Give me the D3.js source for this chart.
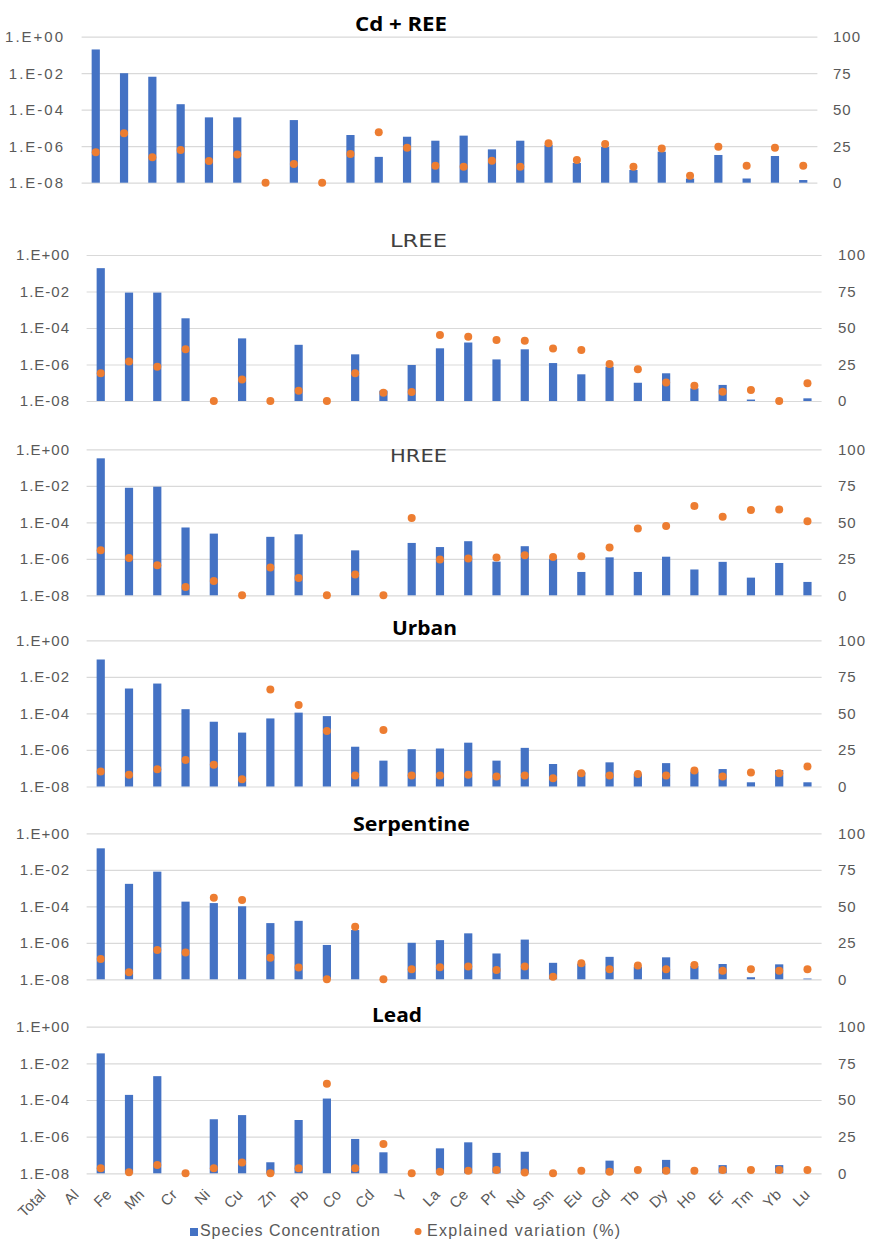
<!DOCTYPE html>
<html>
<head>
<meta charset="utf-8">
<script src="https://cdn.jsdelivr.net/npm/d3@7"></script>
<style>
  body { margin: 0; background: #fff; }
  svg { display: block; }
  text { font-family: "Liberation Sans", Arial, sans-serif; }
</style>
</head>
<body>
<svg id="chart" width="870" height="1242"></svg>
<script>
const elements = ["Total", "Al", "Fe", "Mn", "Cr", "Ni", "Cu", "Zn", "Pb", "Co", "Cd", "Y", "La",
  "Ce", "Pr", "Nd", "Sm", "Eu", "Gd", "Tb", "Dy", "Ho", "Er", "Tm", "Yb", "Lu"];

const titles = ["Cd + REE", "LREE", "HREE", "Urban", "Serpentine", "Lead"];

// species concentration (log axis); null = no bar
const concCdRee = [0.2, 1.0e-2, 6.4e-3, 2.0e-4, 3.8e-5, 3.8e-5, null, 2.7e-5, null, 4.1e-6, 2.6e-7, 3.3e-6, 2.0e-6,
  3.8e-6, 6.7e-7, 2.0e-6, 1.2e-6, 1.2e-7, 9e-7, 5e-8, 5e-7, 1.7e-8, 3.3e-7, 1.7e-8, 2.9e-7, 1.4e-8];
const concLree = [0.19, 8.7e-3, 8.7e-3, 3.4e-4, null, 2.7e-5, null, 1.2e-5, null, 3.6e-6, 3.7e-8, 9.4e-7, 7.7e-6,
  1.6e-5, 1.9e-6, 6.8e-6, 1.2e-6, 2.9e-7, 7.6e-7, 1.0e-7, 3.3e-7, 5e-8, 7.6e-8, 1.2e-8, null, 1.4e-8];
const concHree = [0.32, 7.8e-3, 8.9e-3, 5.2e-5, 2.4e-5, null, 1.6e-5, 2.2e-5, null, 2.9e-6, null, 7.4e-6, 4.4e-6,
  9.2e-6, 7e-7, 4.9e-6, 1e-6, 1.9e-7, 1.2e-6, 1.9e-7, 1.3e-6, 2.6e-7, 6.8e-7, 9.3e-8, 5.9e-7, 5.4e-8];
const concUrban = [8.9e-2, 2.3e-3, 4.3e-3, 1.7e-4, 3.5e-5, 8.9e-6, 5.3e-5, 1.1e-4, 7.1e-5, 1.5e-6, 2.6e-7, 1.1e-6, 1.2e-6,
  2.5e-6, 2.6e-7, 1.3e-6, 1.7e-7, 6e-8, 2.1e-7, 5e-8, 1.9e-7, 6.6e-8, 9e-8, 1.7e-8, 8e-8, 1.7e-8];
const concSerp = [0.15, 1.7e-3, 7.9e-3, 1.8e-4, 1.5e-4, 1.0e-4, 1.2e-5, 1.6e-5, 7.6e-7, 5e-6, null, 1e-6, 1.4e-6,
  3.3e-6, 2.6e-7, 1.5e-6, 8e-8, 7e-8, 1.7e-7, 5e-8, 1.6e-7, 5.3e-8, 6.9e-8, 1.3e-8, 6.6e-8, 1.1e-8];
const concLead = [3.5e-2, 1.9e-4, 2.0e-3, null, 8.9e-6, 1.5e-5, 4e-8, 8.1e-6, 1.2e-4, 7.5e-7, 1.4e-7, null, 2.3e-7,
  4.9e-7, 1.3e-7, 1.5e-7, null, null, 4.9e-8, null, 5.4e-8, null, 2.8e-8, null, 2.8e-8, null];

// explained variation (%), right axis
const varCdRee = [20.8, 33.8, 17.4, 22.4, 14.8, 19.4, 0, 12.8, 0, 19.6, 34.5, 24, 11.6,
  11, 15, 11, 27, 15.5, 26.5, 11, 23.5, 4.8, 24.7, 11.6, 24, 11.6];
const varLree = [19, 27, 23.5, 35.4, 0, 14.8, 0, 7, 0, 19, 5.7, 6.2, 45.2,
  44, 41.8, 41.3, 36, 35, 25.3, 21.7, 12.6, 10.5, 6.4, 7.5, 0, 12.1];
const varHree = [30.9, 25.6, 20.6, 5.7, 9.8, 0, 19, 11.9, 0, 14.2, 0, 53, 24.5,
  25.2, 25.9, 27.5, 26.3, 26.8, 32.7, 45.8, 47.4, 61.1, 53.8, 58.4, 58.8, 50.8];
const varUrban = [10.2, 8, 11.8, 18.2, 14.8, 5, 66.4, 55.7, 38, 7.5, 38.6, 7.5, 7.5,
  8, 6.8, 7.5, 5.7, 9.1, 7.5, 8.6, 7.5, 10.9, 6.8, 9.5, 9.1, 13.6];
const varSerp = [13.9, 4.8, 20, 18.3, 55.9, 54.3, 14.8, 8, 0, 36, 0, 6.8, 8.2,
  8.7, 6.4, 8.7, 1.8, 11, 6.8, 9.4, 6.8, 9.8, 5.9, 6.8, 5.9, 6.8];
const varLead = [3.4, 0.7, 5.7, 0, 3.4, 7.3, 0, 3.4, 61, 3.4, 20, 0, 1.1,
  1.8, 2.3, 0.5, 0, 1.8, 1.1, 2.3, 1.8, 1.8, 2.3, 2.3, 2.3, 2.3];

const logTicks = [1, 1e-2, 1e-4, 1e-6, 1e-8];
const logTickLabels = ["1.E+00", "1.E-02", "1.E-04", "1.E-06", "1.E-08"];
const pctTicks = [0, 25, 50, 75, 100];
const legendLabels = ["Species Concentration", "Explained variation (%)"];

const concs = [concCdRee, concLree, concHree, concUrban, concSerp, concLead];
const vars = [varCdRee, varLree, varHree, varUrban, varSerp, varLead];

// layout of each panel (pixels)
const layout = [
  { top: 36.7, bottom: 182.7, x0: 81.6, x1: 817.4, lx: 65, rx: 833, ls: 2,
    tx: 355, ty: 30.5, tw: 92, bold: true },
  { top: 255, bottom: 401, x0: 86.6, x1: 821.6, lx: 70, rx: 838, ls: 1,
    tx: 390, ty: 246.5, tw: 57, bold: false },
  { top: 449.3, bottom: 595.3, x0: 86.6, x1: 821.6, lx: 70, rx: 838, ls: 1,
    tx: 390, ty: 461.5, tw: 57, bold: false },
  { top: 640.3, bottom: 786.5, x0: 86.6, x1: 821.6, lx: 70, rx: 838, ls: 1,
    tx: 392, ty: 635, tw: 65, bold: true },
  { top: 833.3, bottom: 979.3, x0: 86.6, x1: 821.6, lx: 70, rx: 838, ls: 1,
    tx: 353, ty: 830.5, tw: 117, bold: true },
  { top: 1026.7, bottom: 1173.3, x0: 86.6, x1: 821.6, lx: 70, rx: 838, ls: 1,
    tx: 372, ty: 1021.5, tw: 50, bold: true }
];

const blue = "#4472C4", orange = "#ED7D31", grey = "#595959", grid = "#d9d9d9";

const svg = d3.select("#chart");

layout.forEach((p, i) => {
  const g = svg.append("g");

  const x = d3.scaleBand()
    .domain(elements)
    .range([p.x0, p.x1])
    .paddingInner(0.71)
    .paddingOuter(0.355);

  const y = d3.scaleLog().domain([1e-8, 1]).range([p.bottom, p.top]);
  const y2 = d3.scaleLinear().domain([0, 100]).range([p.bottom, p.top]);

  // gridlines + left labels
  const leftAxis = d3.axisLeft(y)
    .tickValues(logTicks)
    .tickFormat((d, k) => logTickLabels[k])
    .tickSize(-(p.x1 - p.x0))
    .tickPadding(p.x0 - p.lx);

  const la = g.append("g")
    .attr("transform", `translate(${p.x0},0)`)
    .call(leftAxis);
  la.select(".domain").remove();
  la.selectAll("line").attr("stroke", grid).attr("stroke-width", 1.2);
  la.selectAll("text")
    .attr("fill", grey)
    .style("font-size", "15px")
    .style("letter-spacing", p.ls + "px");

  const rightAxis = d3.axisRight(y2)
    .tickValues(pctTicks)
    .tickSize(0)
    .tickPadding(0);
  const ra = g.append("g")
    .attr("transform", `translate(${p.rx},0)`)
    .call(rightAxis);
  ra.select(".domain").remove();
  ra.selectAll("text")
    .attr("fill", grey)
    .style("font-size", "15px")
    .style("letter-spacing", "1px");

  // bars
  const rows = elements.map((e, k) => ({ e, c: concs[i][k], v: vars[i][k] }));

  g.selectAll("rect.bar")
    .data(rows.filter((d) => d.c !== null))
    .enter()
    .append("rect")
    .attr("class", "bar")
    .attr("x", (d) => x(d.e))
    .attr("width", x.bandwidth())
    .attr("y", (d) => y(d.c))
    .attr("height", (d) => y(1e-8) - y(d.c))
    .attr("fill", blue);

  // dots
  g.selectAll("circle.dot")
    .data(rows)
    .enter()
    .append("circle")
    .attr("class", "dot")
    .attr("cx", (d) => x(d.e) + x.bandwidth() / 2)
    .attr("cy", (d) => y2(d.v))
    .attr("r", 4)
    .attr("fill", orange);

  // title
  const t = svg.append("text")
    .attr("x", p.tx)
    .attr("y", p.ty)
    .attr("textLength", p.tw)
    .attr("lengthAdjust", "spacingAndGlyphs")
    .text(titles[i]);
  if (p.bold) {
    t.style("font-family", "'Open Sans', sans-serif")
      .style("font-weight", "bold")
      .style("font-size", "20px")
      .attr("fill", "#000");
  } else {
    t.style("font-family", "'DejaVu Sans', sans-serif")
      .style("font-size", "17px")
      .attr("fill", "#404040");
  }
});

// category labels under the last panel (label row is spread wider on the left)
const xl = d3.scaleLinear().domain([0, 12, 25]).range([43, 437, 807]);
svg.append("g")
  .selectAll("text")
  .data(elements)
  .enter()
  .append("text")
  .attr("transform", (d, k) => `translate(${xl(k)},1192) rotate(-45)`)
  .attr("text-anchor", "end")
  .attr("dy", "0.35em")
  .attr("fill", grey)
  .style("font-size", "15px")
  .text((d) => d);

// legend
const leg = svg.append("g");
leg.append("rect")
  .attr("x", 190).attr("y", 1228).attr("width", 8).attr("height", 8)
  .attr("fill", blue);
leg.append("text")
  .attr("x", 200).attr("y", 1236)
  .attr("textLength", 180)
  .attr("fill", grey)
  .style("font-size", "16px")
  .text(legendLabels[0]);
leg.append("circle")
  .attr("cx", 418).attr("cy", 1231.5).attr("r", 3.5)
  .attr("fill", orange);
leg.append("text")
  .attr("x", 427).attr("y", 1236)
  .attr("textLength", 193)
  .attr("fill", grey)
  .style("font-size", "16px")
  .text(legendLabels[1]);
</script>
</body>
</html>
